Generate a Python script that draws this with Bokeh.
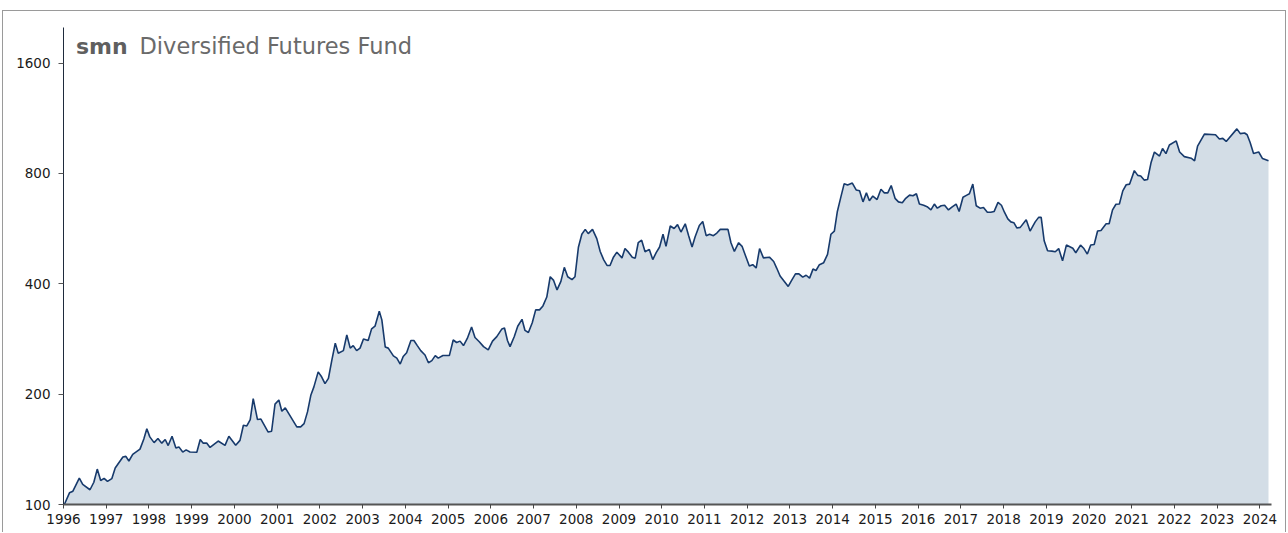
from bokeh.plotting import figure
from bokeh.models import FixedTicker, NumeralTickFormatter, Label, Range1d
from bokeh.embed import file_html
from bokeh.resources import INLINE

# Decimal-year dates and fund index values
dates = [
    1996.02, 1996.14, 1996.22, 1996.37, 1996.45, 1996.62, 1996.71, 1996.79, 1996.87, 1996.95,
    1997.03, 1997.13, 1997.21, 1997.39, 1997.46, 1997.53, 1997.62, 1997.79, 1997.88, 1997.95,
    1998.02, 1998.12, 1998.21, 1998.30, 1998.38, 1998.45, 1998.54, 1998.63, 1998.70, 1998.79,
    1998.87, 1998.96, 1999.12, 1999.20, 1999.27, 1999.35, 1999.43, 1999.62, 1999.78, 1999.87,
    2000.03, 2000.13, 2000.21, 2000.29, 2000.37, 2000.44, 2000.54, 2000.62, 2000.79, 2000.87,
    2000.95, 2001.04, 2001.11, 2001.19, 2001.46, 2001.55, 2001.63, 2001.71, 2001.79, 2001.86,
    2001.96, 2002.04, 2002.12, 2002.20, 2002.28, 2002.36, 2002.43, 2002.55, 2002.63, 2002.71,
    2002.78, 2002.86, 2002.94, 2003.02, 2003.13, 2003.21, 2003.29, 2003.39, 2003.45, 2003.53,
    2003.60, 2003.72, 2003.80, 2003.88, 2003.95, 2004.03, 2004.13, 2004.20, 2004.28, 2004.36,
    2004.46, 2004.54, 2004.62, 2004.70, 2004.77, 2004.88, 2005.03, 2005.12, 2005.20, 2005.28,
    2005.36, 2005.45, 2005.55, 2005.63, 2005.73, 2005.83, 2005.94, 2006.04, 2006.14, 2006.26,
    2006.32, 2006.39, 2006.45, 2006.55, 2006.63, 2006.73, 2006.80, 2006.88, 2006.97, 2007.05,
    2007.14, 2007.22, 2007.31, 2007.39, 2007.47, 2007.55, 2007.64, 2007.72, 2007.80, 2007.90,
    2007.97, 2008.05, 2008.13, 2008.21, 2008.28, 2008.38, 2008.48, 2008.56, 2008.64, 2008.72,
    2008.79, 2008.87, 2008.95, 2009.07, 2009.14, 2009.22, 2009.31, 2009.38, 2009.45, 2009.53,
    2009.61, 2009.71, 2009.79, 2009.87, 2009.95, 2010.03, 2010.10, 2010.20, 2010.29, 2010.37,
    2010.45, 2010.55, 2010.63, 2010.71, 2010.78, 2010.88, 2010.96, 2011.04, 2011.12, 2011.21,
    2011.29, 2011.37, 2011.55, 2011.62, 2011.70, 2011.80, 2011.88, 2011.95, 2012.05, 2012.13,
    2012.21, 2012.29, 2012.38, 2012.52, 2012.62, 2012.69, 2012.77, 2012.87, 2012.96, 2013.05,
    2013.13, 2013.21, 2013.30, 2013.38, 2013.46, 2013.54, 2013.61, 2013.69, 2013.79, 2013.88,
    2013.96, 2014.04, 2014.11, 2014.19, 2014.27, 2014.35, 2014.46, 2014.55, 2014.63, 2014.71,
    2014.79, 2014.86, 2014.94, 2015.04, 2015.13, 2015.21, 2015.29, 2015.37, 2015.46, 2015.54,
    2015.63, 2015.71, 2015.80, 2015.88, 2015.96, 2016.03, 2016.13, 2016.21, 2016.30, 2016.38,
    2016.45, 2016.54, 2016.62, 2016.71, 2016.79, 2016.89, 2016.96, 2017.05, 2017.14, 2017.20,
    2017.28, 2017.36, 2017.45, 2017.53, 2017.62, 2017.70, 2017.78, 2017.87, 2017.95, 2018.02,
    2018.10, 2018.17, 2018.24, 2018.31, 2018.39, 2018.53, 2018.62, 2018.74, 2018.82, 2018.88,
    2018.95, 2019.03, 2019.13, 2019.21, 2019.29, 2019.38, 2019.47, 2019.62, 2019.69, 2019.80,
    2019.88, 2019.96, 2020.04, 2020.12, 2020.20, 2020.28, 2020.40, 2020.47, 2020.55, 2020.63,
    2020.71, 2020.79, 2020.87, 2020.95, 2021.06, 2021.14, 2021.21, 2021.29, 2021.37, 2021.45,
    2021.53, 2021.65, 2021.72, 2021.80, 2021.88, 2022.04, 2022.12, 2022.23, 2022.39, 2022.47,
    2022.54, 2022.70, 2022.96, 2023.05, 2023.13, 2023.21, 2023.46, 2023.54, 2023.64, 2023.70,
    2023.77, 2023.85, 2023.97, 2024.06, 2024.20,
]
nav = [
    100, 107.6, 108.7, 118, 113.4, 109.7, 115, 124.9, 116.3, 117.8,
    115.6, 117.6, 125.7, 134.7, 135.3, 131.4, 137, 141.6, 150.9, 161,
    152.9, 147.5, 151.3, 147, 150.4, 144.8, 153.5, 142.6, 143.6, 139,
    140.9, 139, 138.8, 150.4, 147, 147.2, 143.1, 149, 145, 153.5,
    145, 149.6, 164.5, 163.8, 170.5, 194.4, 170.5, 171, 157.6, 158.4,
    187.8, 192.7, 179.6, 183.5, 162.8, 162.8, 166.2, 178.9, 199, 209.3,
    230, 223, 213.6, 220.8, 247.7, 275.3, 258.5, 262.8, 290, 267,
    271.3, 262.8, 267, 282.6, 280.2, 301.3, 306.4, 336.5, 318.8, 268.8,
    267, 254.3, 250.7, 241.6, 253.2, 259.4, 280.2, 280.2, 271.3, 262.8,
    255.8, 243.5, 246.8, 254.8, 250.7, 254.8, 254.8, 281, 276.6, 279,
    271.3, 283.8, 305, 285.5, 278, 269.5, 264, 279, 287, 301.3,
    303, 280.2, 269.5, 287.3, 306.4, 320, 298.4, 294.5, 313, 339.5,
    339.5, 348, 368, 418, 408.5, 384.8, 406, 443.5, 418, 410.5,
    418, 503, 546, 563, 548, 563, 531, 490, 465.5, 448.8,
    448.8, 472.7, 487.8, 470.6, 499, 487.8, 472.7, 469.7, 517.6, 526,
    489, 496.3, 465.5, 486.5, 504, 546, 506, 574.8, 566, 580,
    553.6, 583, 541, 504, 536.4, 577, 591.5, 541, 546, 541,
    550, 563, 563, 517.6, 490, 517.6, 506, 481, 447, 451,
    441.5, 499, 470.6, 472.7, 460, 441.5, 420, 406, 393.4, 410.5,
    425.6, 425.6, 417, 422, 414.5, 438.6, 434.7, 451, 456.7, 481,
    546, 557, 630, 688, 750, 744, 753, 721, 717, 669,
    708, 674, 694, 679, 724, 708, 708, 741, 684, 669,
    665, 684, 698, 695, 704, 660, 655, 649, 636, 660,
    643, 653, 655, 636, 647, 660, 630, 689, 698, 704,
    748, 653, 643, 646, 627, 627, 630, 667, 655, 627,
    601, 590, 587, 568, 570, 598, 557, 590, 607, 607,
    524, 492, 491, 489, 499, 462, 510, 500, 486, 510,
    499, 482, 510, 512, 557, 559, 583, 583, 636, 659,
    660, 717, 745, 748, 814, 790, 787, 767, 770, 855,
    915, 892, 935, 906, 956, 981, 915, 889, 880, 866,
    950, 1024, 1020, 993, 997, 978, 1058, 1027, 1031, 1020,
    971, 907, 915, 878, 866,
]
x_ticks = list(range(1996, 2025))
y_ticks = [100, 200, 400, 800, 1600]
title_bold = "smn"
title_rest = "Diversified Futures Fund"
base_value = 100

p = figure(
    width=1284, height=522,
    y_axis_type="log",
    x_range=Range1d(1996, 2024.27),
    y_range=Range1d(100, 2000),
    output_backend="svg",
    toolbar_location=None,
    min_border_left=60, min_border_right=16,
    min_border_top=16, min_border_bottom=29,
    styles={"border-top": "1px solid #9a9a9a", "border-left": "1px solid #9a9a9a",
            "border-right": "1px solid #9a9a9a",
            "margin-left": "2px", "margin-top": "10px"},
)
p.outline_line_color = None
p.xgrid.grid_line_color = None
p.ygrid.grid_line_color = None
p.background_fill_color = "white"
p.border_fill_color = "white"

p.varea(x=dates, y1=[base_value] * len(dates), y2=nav, fill_color="#d3dde6", fill_alpha=1.0)
p.line(dates, nav, line_color="#173a6c", line_width=1.6)

# x axis
xa = p.xaxis[0]
xa.ticker = FixedTicker(ticks=x_ticks)
xa.formatter = NumeralTickFormatter(format="0")
xa.axis_line_color = "#555555"
xa.axis_line_width = 2
xa.major_tick_line_color = "#444444"
xa.major_tick_in = 0
xa.major_tick_out = 4
xa.minor_tick_line_color = None
xa.major_label_standoff = 5
xa.major_label_text_font = "DejaVu Sans"
xa.major_label_text_font_size = "13.5px"
xa.major_label_text_color = "#1a1a1a"

# y axis
ya = p.yaxis[0]
ya.ticker = FixedTicker(ticks=y_ticks)
ya.formatter = NumeralTickFormatter(format="0")
ya.axis_line_color = "#1f2b3d"
ya.axis_line_width = 1
ya.major_tick_line_color = "#555555"
ya.major_tick_in = 0
ya.major_tick_out = 5
ya.minor_tick_line_color = None
ya.major_label_standoff = 8
ya.major_label_text_font = "DejaVu Sans"
ya.major_label_text_font_size = "13.5px"
ya.major_label_text_color = "#1a1a1a"

p.add_layout(Label(x=1996, y=1780, x_offset=12.5, text=title_bold,
                   text_font="DejaVu Sans", text_font_style="bold",
                   text_font_size="22px", text_color="#5f5f5f",
                   text_baseline="alphabetic"))
p.add_layout(Label(x=1996, y=1780, x_offset=76, text=title_rest,
                   text_font="DejaVu Sans", text_font_size="22.5px",
                   text_color="#6a6a6a", text_baseline="alphabetic"))

open("out.html", "w").write(file_html(p, INLINE))
